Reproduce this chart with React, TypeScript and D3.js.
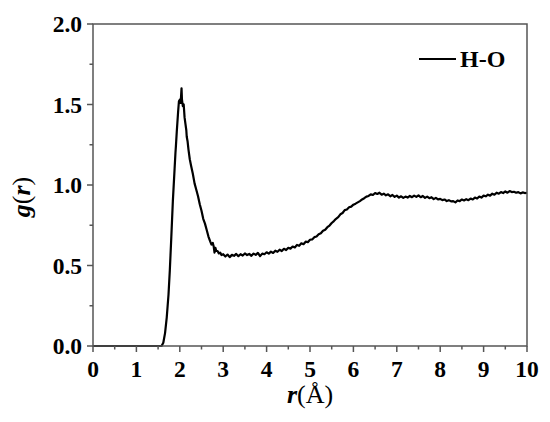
import React from "react";
import * as d3 from "d3";

const peakR = [0, 1.5, 1.58, 1.62, 1.66, 1.7, 1.74, 1.77, 1.8, 1.84, 1.88, 1.9, 1.91, 1.93, 1.96, 1.98, 2.0, 2.02, 2.04, 2.05, 2.07, 2.09, 2.11, 2.13, 2.15, 2.16, 2.18, 2.2, 2.23, 2.26, 2.3, 2.34, 2.38, 2.42, 2.46, 2.5, 2.54, 2.58, 2.62, 2.66, 2.7, 2.73, 2.76, 2.78, 2.8, 2.82, 2.84, 2.87, 2.9, 2.93, 2.96];
const peakG = [0, 0, 0, 0.02, 0.08, 0.18, 0.32, 0.47, 0.65, 0.9, 1.1, 1.2, 1.24, 1.33, 1.45, 1.52, 1.53, 1.51, 1.6, 1.53, 1.49, 1.5, 1.42, 1.38, 1.34, 1.3, 1.27, 1.22, 1.16, 1.12, 1.07, 1.01, 0.97, 0.93, 0.88, 0.84, 0.79, 0.76, 0.72, 0.68, 0.65, 0.63, 0.64, 0.62, 0.58, 0.61, 0.59, 0.59, 0.575, 0.58, 0.565];

const tailR = [3.0, 3.05, 3.1, 3.15, 3.2, 3.25, 3.3, 3.35, 3.4, 3.45, 3.5, 3.55, 3.6, 3.65, 3.7, 3.75, 3.8, 3.85, 3.9, 3.95, 4.0, 4.05, 4.1, 4.15, 4.2, 4.25, 4.3, 4.35, 4.4, 4.45, 4.5, 4.55, 4.6, 4.65, 4.7, 4.75, 4.8, 4.85, 4.9, 4.95, 5.0, 5.05, 5.1, 5.15, 5.2, 5.25, 5.3, 5.35, 5.4, 5.45, 5.5, 5.55, 5.6, 5.65, 5.7, 5.75, 5.8, 5.85, 5.9, 5.95, 6.0, 6.05, 6.1, 6.15, 6.2, 6.25, 6.3, 6.35, 6.4, 6.45, 6.5, 6.55, 6.6, 6.65, 6.7, 6.75, 6.8, 6.85, 6.9, 6.95, 7.0, 7.05, 7.1, 7.15, 7.2, 7.25, 7.3, 7.35, 7.4, 7.45, 7.5, 7.55, 7.6, 7.65, 7.7, 7.75, 7.8, 7.85, 7.9, 7.95, 8.0, 8.05, 8.1, 8.15, 8.2, 8.25, 8.3, 8.35, 8.4, 8.45, 8.5, 8.55, 8.6, 8.65, 8.7, 8.75, 8.8, 8.85, 8.9, 8.95, 9.0, 9.05, 9.1, 9.15, 9.2, 9.25, 9.3, 9.35, 9.4, 9.45, 9.5, 9.55, 9.6, 9.65, 9.7, 9.75, 9.8, 9.85, 9.9, 9.95, 10.0];
const tailG = [0.57, 0.556, 0.568, 0.552, 0.566, 0.56, 0.572, 0.558, 0.57, 0.562, 0.575, 0.565, 0.572, 0.56, 0.574, 0.566, 0.578, 0.558, 0.574, 0.57, 0.582, 0.574, 0.586, 0.578, 0.592, 0.585, 0.598, 0.59, 0.604, 0.596, 0.61, 0.605, 0.618, 0.612, 0.628, 0.622, 0.638, 0.632, 0.648, 0.645, 0.66, 0.662, 0.676, 0.68, 0.694, 0.7, 0.716, 0.722, 0.738, 0.748, 0.764, 0.776, 0.79, 0.8, 0.818, 0.826, 0.844, 0.848, 0.862, 0.866, 0.878, 0.884, 0.892, 0.9, 0.91, 0.918, 0.928, 0.932, 0.942, 0.938, 0.95, 0.944, 0.952, 0.94, 0.946, 0.936, 0.942, 0.93, 0.938, 0.926, 0.934, 0.922, 0.93, 0.92, 0.928, 0.922, 0.932, 0.924, 0.934, 0.926, 0.936, 0.924, 0.932, 0.92, 0.928, 0.918, 0.924, 0.912, 0.92, 0.91, 0.914, 0.906, 0.91, 0.9, 0.906, 0.898, 0.9, 0.892, 0.904, 0.9, 0.91, 0.904, 0.912, 0.906, 0.916, 0.91, 0.922, 0.916, 0.928, 0.922, 0.934, 0.93, 0.94, 0.934, 0.946, 0.94, 0.952, 0.946, 0.956, 0.95, 0.96, 0.952, 0.962, 0.956, 0.958, 0.952, 0.956, 0.948, 0.954, 0.95, 0.952];

const xTicks = [0, 1, 2, 3, 4, 5, 6, 7, 8, 9, 10];
const xMinor = [0.5, 1.5, 2.5, 3.5, 4.5, 5.5, 6.5, 7.5, 8.5, 9.5];
const yTicks = [0, 0.5, 1.0, 1.5, 2.0];
const yMinor = [0.25, 0.75, 1.25, 1.75];
const seriesName = "H-O";

const W = 550, H = 422;
const L = 93, R = 527, T = 24, B = 346;
const FONT = "'Liberation Serif', 'Times New Roman', serif";
const AX = "#555";

export default function App() {
  const x = d3.scaleLinear().domain([0, 10]).range([L, R]);
  const y = d3.scaleLinear().domain([0, 2]).range([B, T]);
  const pts: [number, number][] = [];
  peakR.forEach((r, i) => pts.push([r, peakG[i]]));
  tailR.forEach((r, i) => pts.push([r, tailG[i]]));
  const line = d3.line<[number, number]>().x(d => x(d[0])).y(d => y(d[1]));

  return (
    <svg width={W} height={H} style={{ position: "absolute", left: 0, top: 0, background: "#fff" }}>
      <rect x={0} y={0} width={W} height={H} fill="#fff" />
      <path d={line(pts) || ""} fill="none" stroke="#000" strokeWidth={2.2} strokeLinejoin="round" />
      <rect x={L} y={T} width={R - L} height={B - T} fill="none" stroke={AX} strokeWidth={1.5} />
      {xTicks.map(t => (
        <g key={"xt" + t}>
          <line x1={x(t)} x2={x(t)} y1={B} y2={B + 6} stroke={AX} strokeWidth={1.5} />
          <text x={x(t)} y={377} textAnchor="middle" fontFamily={FONT} fontWeight="bold" fontSize={23.5}>{t}</text>
        </g>
      ))}
      {xMinor.map(t => (
        <line key={"xm" + t} x1={x(t)} x2={x(t)} y1={B} y2={B + 3.5} stroke={AX} strokeWidth={1.5} />
      ))}
      {yTicks.map(t => (
        <g key={"yt" + t}>
          <line x1={L - 6} x2={L} y1={y(t)} y2={y(t)} stroke={AX} strokeWidth={1.5} />
          <text x={82} y={y(t)} dy="0.35em" textAnchor="end" fontFamily={FONT} fontWeight="bold" fontSize={23.5}>{t.toFixed(1)}</text>
        </g>
      ))}
      {yMinor.map(t => (
        <line key={"ym" + t} x1={L - 3.5} x2={L} y1={y(t)} y2={y(t)} stroke={AX} strokeWidth={1.5} />
      ))}
      <text x={310} y={403} textAnchor="middle" fontFamily={FONT} fontSize={26}>
        <tspan fontStyle="italic" fontWeight="bold">r</tspan>
        <tspan>(Å)</tspan>
      </text>
      <text transform={`translate(30,197) rotate(-90)`} textAnchor="middle" fontFamily={FONT} fontSize={26}>
        <tspan fontStyle="italic" fontWeight="bold">g</tspan>
        <tspan>(</tspan>
        <tspan fontStyle="italic" fontWeight="bold">r</tspan>
        <tspan>)</tspan>
      </text>
      <line x1={419} x2={456} y1={59} y2={59} stroke="#000" strokeWidth={2.2} />
      <text x={460} y={67} fontFamily={FONT} fontWeight="bold" fontSize={24}>{seriesName}</text>
    </svg>
  );
}
